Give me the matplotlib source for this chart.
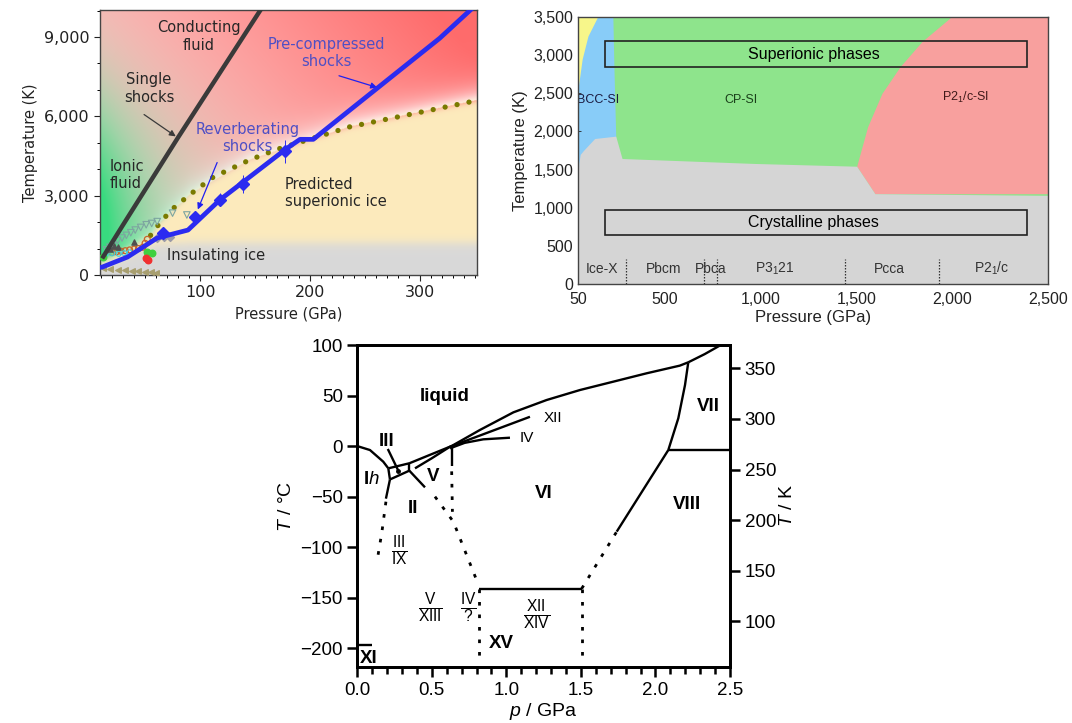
import numpy as np
import matplotlib
matplotlib.use("Agg")
import matplotlib.pyplot as plt
from matplotlib.patches import Rectangle
from matplotlib.ticker import FuncFormatter, MultipleLocator

plt.rcParams["mathtext.fontset"] = "custom"
plt.rcParams["mathtext.rm"] = "Liberation Sans"
plt.rcParams["mathtext.it"] = "Liberation Sans:italic"
plt.rcParams["mathtext.bf"] = "Liberation Sans:bold"

comma = FuncFormatter(lambda v, _: f"{v:,.0f}")

# ---------------- panel a: water under shock compression ----------------
hugoniot_p = [12, 30, 80, 155]
hugoniot_t = [700, 1900, 5200, 10020]

model_p = [9, 11, 34, 61, 89, 118, 179, 191, 203, 318, 346]
model_t = [290, 300, 680, 1400, 1700, 2840, 4790, 5130, 5130, 8950, 10020]

dotted_p = [55, 64, 75, 91, 112, 145, 170, 236, 300, 352]
dotted_t = [1500, 2000, 2500, 3050, 3700, 4350, 4750, 5600, 6150, 6600]

rev_p = [66, 95, 118, 139, 177]
rev_t = [1590, 2200, 2850, 3450, 4670]
rev_err = [100, 150, 250, 350, 450]

tri_p = [15, 18, 21, 25, 29, 33, 37, 41, 46, 51, 56, 61, 75, 88]
tri_t = [950, 1050, 1150, 1300, 1400, 1500, 1600, 1700, 1800, 1900, 1950, 2020, 2340, 2270]
orange_p = [20, 24, 28, 32, 36, 40, 44, 48, 50, 52]
orange_t = [850, 880, 900, 920, 950, 980, 1000, 1050, 1200, 1350]
cyan_p = [14, 20, 26, 31, 36]
cyan_t = [780, 820, 800, 830, 860]
green_pts_p = [12, 52, 56]
green_pts_t = [700, 880, 850]
red_pts_p = [51, 53]
red_pts_t = [640, 560]
dark_p = [18, 22, 25, 40]
dark_t = [1000, 1100, 1050, 1250]
grey_dia_p = [61, 67, 73]
grey_dia_t = [1400, 1420, 1440]
left_tri_p = [12, 18, 25, 32, 38, 44, 50, 55, 60]
left_tri_t = [260, 230, 200, 180, 160, 140, 120, 100, 80]

# soft background edges of the regions
sup_edge_p = [9, 30, 55, 64, 91, 145, 236, 352]
sup_edge_t = [500, 900, 1500, 2000, 3050, 4350, 5600, 6600]
ice_edge_p = [9, 30, 60, 90, 352]
ice_edge_t = [320, 650, 1150, 1200, 1200]

# ---------------- panel b: predicted phases at extreme pressure ----------------
grey_top_p = [50, 52, 60, 78, 135, 245, 278, 970, 1502, 1597, 2500]
grey_top_t = [1450, 1580, 1700, 1754, 1907, 1938, 1645, 1580, 1544, 1184, 1162]
bcc_edge_t = [1400, 1938, 2800, 3500]
bcc_edge_p = [245, 245, 236, 230]
red_edge_t = [1184, 1544, 2061, 2500, 2851, 3180, 3500]
red_edge_p = [1597, 1502, 1559, 1634, 1729, 1843, 1995]
yellow_edge_t = [2590, 2950, 3250, 3500]
yellow_edge_p = [50, 70, 100, 150]
crystal_bounds = [297, 705, 775, 1441, 1929]
crystal_names = ["Ice-X", "Pbcm", "Pbca", "P3$_1$21", "Pcca", "P2$_1$/c"]
crystal_name_p = [173, 496, 739, 1075, 1672, 2208]

# ---------------- panel c: ice phase diagram ----------------
solid_lines = {
    "ih_melt": ([0, 0.085, 0.174, 0.208], [0, -3.9, -15.4, -22]),
    "ih_iii": ([0.208, 0.219], [-22, -33]),
    "ih_ii": ([0.219, 0.192], [-33, -52]),
    "iii_melt": ([0.208, 0.349], [-22, -17]),
    "iii_v": ([0.349, 0.349], [-17, -24.3]),
    "iii_ii": ([0.219, 0.349], [-33, -24.3]),
    "ii_v": ([0.349, 0.454], [-24.3, -40.8]),
    "v_melt": ([0.349, 0.49, 0.633], [-17, -8.5, 0.1]),
    "vi_melt": ([0.633, 0.823, 1.047, 1.27, 1.494, 1.716, 1.94, 2.163, 2.22],
                [0.1, 16, 33.4, 45.6, 55.5, 63.7, 72, 79.6, 82.9]),
    "vii_melt": ([2.22, 2.33, 2.45], [82.9, 91, 101]),
    "v_vi": ([0.633, 0.633], [0.1, -20]),
    "xii": ([0.387, 0.5, 0.622, 0.89, 1.158], [-22, -12, -0.6, 14.2, 29]),
    "iv": ([0.622, 0.72, 0.845, 1.024], [-2.2, 3.2, 6.7, 8.3]),
    "vi_vii": ([2.086, 2.153, 2.198, 2.22], [-3.9, 27.5, 60.4, 82.9]),
    "vii_viii": ([2.086, 2.5], [-3.9, -3.9]),
    "vi_viii": ([1.74, 2.086], [-84.6, -3.9]),
    "vi_xv": ([0.818, 1.505], [-141, -141]),
    "xi": ([0, 0.096], [-196.7, -196.7]),
}
dotted_lines = {
    "ih_ix": ([0.192, 0.165, 0.13], [-55, -85, -116]),
    "ii_vi": ([0.521, 0.644, 0.733, 0.8], [-50, -74.7, -107.7, -132.5]),
    "v_vi": ([0.633, 0.638], [-25, -65]),
    "vi_viii": ([1.505, 1.74], [-141, -84.6]),
    "xv_left": ([0.818, 0.818], [-141, -212]),
    "xv_right": ([1.505, 1.505], [-141, -212]),
}

fig = plt.figure(figsize=(10.72, 7.23), dpi=100)

# ======================= panel a =======================
ax1 = fig.add_axes([0.0933, 0.6196, 0.3517, 0.3666])
P, T = np.meshgrid(np.linspace(9, 352, 520), np.linspace(0, 10020, 420))
Te = np.interp(P, sup_edge_p, sup_edge_t)
Ti = np.interp(P, ice_edge_p, ice_edge_t)
d = T - Te
sup = 1 / (1 + np.exp(np.clip(d / 70, -50, 50)))
ice = 1 / (1 + np.exp(np.clip((T - Ti) / 110, -50, 50)))
r = np.clip(0.9 * (P - 9) / 343 + 0.5 * T / 10020 - 0.3, 0, 1)[..., None]
pink = np.array([1.0, 0.80, 0.80])
red = np.array([1.0, 0.42, 0.42])
upper = pink * (1 - r) + red * r
halo = (np.where(d > 0, np.exp(-np.clip(d, 0, None) / 450), 0) * 0.9)[..., None]
upper = upper * (1 - halo) + halo
g = np.clip(1.15 * np.exp(-(P - 9) / 50) * np.exp(-((T - 1500) / 5000) ** 2), 0, 1)[..., None]
green = np.array([0.22, 0.86, 0.50])
upper = upper * (1 - g) + green * g
beige = np.array([0.99, 0.92, 0.74])
grey = np.array([0.85, 0.85, 0.85])
col = sup[..., None] * beige + (1 - sup[..., None]) * upper
col = ice[..., None] * grey + (1 - ice[..., None]) * col
ax1.imshow(col, extent=[9, 352, 0, 10020], origin="lower", aspect="auto",
           interpolation="bilinear", zorder=0)

ax1.plot(dotted_p, dotted_t, color="#7a7a00", lw=3.8, ls=(0, (0.01, 2.3)),
         dash_capstyle="round", zorder=3)
ax1.plot(hugoniot_p, hugoniot_t, color="#3a3a3a", lw=3.2, zorder=4)
ax1.plot(model_p, model_t, color="#2b2bf0", lw=3.4, zorder=4)
ax1.errorbar(rev_p, rev_t, yerr=rev_err, fmt="D", color="#2b2bf0", ms=6.5,
             elinewidth=0.7, capsize=0, zorder=5)
ax1.scatter(tri_p, tri_t, marker="v", s=22, facecolors="none", edgecolors="#7da5a0",
            lw=0.8, zorder=3)
ax1.scatter(orange_p, orange_t, marker="o", s=18, facecolors="none", edgecolors="#c8642a",
            lw=0.9, zorder=3)
ax1.scatter(cyan_p, cyan_t, marker="o", s=12, facecolors="none", edgecolors="#40d0e0",
            lw=0.8, zorder=3)
ax1.scatter(dark_p, dark_t, marker="^", s=14, color="#505050", zorder=3)
ax1.scatter(green_pts_p, green_pts_t, marker="o", s=22, color="#40d040", zorder=3)
ax1.scatter(red_pts_p, red_pts_t, marker="o", s=22, color="#f03030", zorder=3)
ax1.scatter(grey_dia_p, grey_dia_t, marker="D", s=16, color="#9a9aa8", zorder=3)
ax1.scatter(left_tri_p, left_tri_t, marker="<", s=16, color="#a89f70", zorder=3)

ax1.set_xlim(9, 352)
ax1.set_ylim(0, 10020)
ax1.xaxis.set_major_locator(MultipleLocator(100))
ax1.xaxis.set_minor_locator(MultipleLocator(10))
ax1.yaxis.set_major_locator(MultipleLocator(3000))
ax1.yaxis.set_minor_locator(MultipleLocator(1000))
ax1.yaxis.set_major_formatter(comma)
ax1.tick_params(labelsize=11.5, colors="#222222", length=4, width=0.8)
ax1.tick_params(which="minor", length=2.5, width=0.7)
for s in ax1.spines.values():
    s.set_color("#444444")
    s.set_linewidth(1.0)
ax1.set_xlabel("Pressure (GPa)", fontsize=10.5, color="#222222")
ax1.set_ylabel("Temperature (K)", fontsize=10.5, color="#222222")

tc = "#262626"
bc = "#4f4fc4"
fs1 = 10.5
ax1.text(99, 9010, "Conducting\nfluid", ha="center", va="center", fontsize=fs1, color=tc)
ax1.text(53.6, 7046, "Single\nshocks", ha="center", va="center", fontsize=fs1, color=tc)
ax1.text(215, 8385, "Pre-compressed\nshocks", ha="center", va="center", fontsize=fs1, color=bc)
ax1.text(143, 5170, "Reverberating\nshocks", ha="center", va="center", fontsize=fs1, color=bc)
ax1.text(18, 3782, "Ionic\nfluid", ha="left", va="center", fontsize=fs1, color=tc)
ax1.text(177, 3090, "Predicted\nsuperionic ice", ha="left", va="center", fontsize=fs1, color=tc)
ax1.text(69.7, 756, "Insulating ice", ha="left", va="center", fontsize=fs1, color=tc)
ax1.annotate("", xy=(80, 5181), xytext=(47, 6127),
             arrowprops=dict(arrowstyle="-|>", color="#3a3a3a", lw=0.9, mutation_scale=9))
ax1.annotate("", xy=(97, 2380), xytext=(116.5, 4349),
             arrowprops=dict(arrowstyle="-|>", color="#2020f0", lw=0.9, mutation_scale=9))
ax1.annotate("", xy=(263.5, 7060), xytext=(224, 7564),
             arrowprops=dict(arrowstyle="-|>", color="#2020f0", lw=0.9, mutation_scale=9))

# ======================= panel b =======================
ax2 = fig.add_axes([0.5395, 0.6072, 0.4381, 0.3693])
ax2.fill_between([50, 2500], 0, 3500, color="#8ee48c", lw=0, zorder=0)
ax2.fill_betweenx(bcc_edge_t, 50, bcc_edge_p, color="#88ccf8", lw=0, zorder=1)
ax2.fill_betweenx(red_edge_t, red_edge_p, 2500, color="#f8a09e", lw=0, zorder=1)
ax2.fill_between(grey_top_p, 0, grey_top_t, color="#d5d5d5", lw=0, zorder=2)
ax2.fill_betweenx(yellow_edge_t, 50, yellow_edge_p, color="#f7f68a", lw=0, zorder=2)

ax2.add_patch(Rectangle((188, 2838), 2200, 342, fill=False, ec="#222222", lw=1.2, zorder=4))
ax2.add_patch(Rectangle((188, 636), 2200, 338, fill=False, ec="#222222", lw=1.2, zorder=4))
ax2.text(1277, 3009, "Superionic phases", ha="center", va="center", fontsize=11.5,
         family="Liberation Sans", zorder=5)
ax2.text(1277, 805, "Crystalline phases", ha="center", va="center", fontsize=11.5,
         family="Liberation Sans", zorder=5)
ax2.text(154, 2412, "BCC-SI", ha="center", va="center", fontsize=9,
         family="Liberation Sans", color="#1a1a40", zorder=5)
ax2.text(900, 2412, "CP-SI", ha="center", va="center", fontsize=9,
         family="Liberation Sans", color="#1a401a", zorder=5)
ax2.text(2070, 2440, "P2$_1$/c-SI", ha="center", va="center", fontsize=9,
         family="Liberation Sans", color="#401a1a", zorder=5)
ax2.vlines(crystal_bounds, 0, 330, colors="#333333", linestyles=(0, (1.2, 1.2)), lw=0.9, zorder=3)
for name, p in zip(crystal_names, crystal_name_p):
    ax2.text(p, 200, name, ha="center", va="center", fontsize=10,
             family="Liberation Sans", color="#333333", zorder=5)

ax2.set_xlim(50, 2500)
ax2.set_ylim(0, 3500)
ax2.set_xticks([50, 500, 1000, 1500, 2000, 2500])
ax2.set_yticks(np.arange(0, 3501, 500))
ax2.xaxis.set_major_formatter(comma)
ax2.yaxis.set_major_formatter(comma)
ax2.tick_params(labelsize=11.5, direction="in", length=2, width=0.6, colors="#222222")
ax2.tick_params(axis="x", pad=6)
for lab in ax2.get_xticklabels() + ax2.get_yticklabels():
    lab.set_family("Liberation Sans")
for s in ax2.spines.values():
    s.set_color("#444444")
    s.set_linewidth(1.0)
    s.set_zorder(6)
ax2.set_xlabel("Pressure (GPa)", fontsize=12, family="Liberation Sans", color="#222222",
               labelpad=2)
ax2.set_ylabel("Temperature (K)", fontsize=12, family="Liberation Sans", color="#222222")

# ======================= panel c =======================
ax3 = fig.add_axes([0.3333, 0.0775, 0.3477, 0.4453])
for xs, ys in solid_lines.values():
    ax3.plot(xs, ys, color="black", lw=1.7, solid_capstyle="butt")
for xs, ys in dotted_lines.values():
    ax3.plot(xs, ys, color="black", lw=2.0, ls=(0, (1.3, 3.2)))
ax3.plot([0.208, 0.275], [-3.9, -24.3], color="black", lw=1.7)
ax3.plot([0.275], [-24.3], "o", color="black", ms=2.5)

fsc = 13.5
bold = dict(fontsize=fsc, fontweight="bold", family="Liberation Sans", ha="center", va="center")
ax3.text(0.588, 48.9, "liquid", **bold)
ax3.text(0.2, 5, "III", **bold)
ax3.text(0.51, -30, "V", **bold)
ax3.text(0.376, -61.5, "II", **bold)
ax3.text(1.248, -46.7, "VI", **bold)
ax3.text(2.355, 39, "VII", **bold)
ax3.text(2.21, -58, "VIII", **bold)
ax3.text(0.968, -195, "XV", **bold)
ax3.text(0.074, -210, "XI", **bold)
ax3.text(0.096, -33.5, r"I$\mathbf{\mathit{h}}$", **bold)
ax3.text(1.25, 28, "XII", ha="left", va="center", fontsize=11, family="Liberation Sans")
ax3.text(1.09, 7.7, "IV", ha="left", va="center", fontsize=11, family="Liberation Sans")
ax3.text(0.28, -103, r"$\frac{\mathrm{III}}{\mathrm{IX}}$", fontsize=16, ha="center", va="center")
ax3.text(0.49, -159.5, r"$\frac{\mathrm{V}}{\mathrm{XIII}}$", fontsize=16, ha="center", va="center")
ax3.text(0.745, -160, r"$\frac{\mathrm{IV}}{\mathrm{?}}$", fontsize=16, ha="center", va="center")
ax3.text(1.2, -167, r"$\frac{\mathrm{XII}}{\mathrm{XIV}}$", fontsize=16, ha="center", va="center")

ax3.set_xlim(0, 2.5)
ax3.set_ylim(-218.5, 100)
ax3.xaxis.set_major_locator(MultipleLocator(0.5))
ax3.xaxis.set_minor_locator(MultipleLocator(0.1))
ax3.yaxis.set_major_locator(MultipleLocator(50))
ax3.xaxis.set_major_formatter(FuncFormatter(lambda v, _: f"{v:.1f}"))
ax3.tick_params(labelsize=fsc, length=7, width=1.8, direction="out")
ax3.tick_params(which="minor", length=5, width=1.8)
ax3.tick_params(axis="y", right=False)
for lab in ax3.get_xticklabels() + ax3.get_yticklabels():
    lab.set_family("Liberation Sans")
for s in ax3.spines.values():
    s.set_linewidth(2.0)
ax3.set_xlabel(r"$p$ / GPa", fontsize=14, family="Liberation Sans", labelpad=2)
ax3.set_ylabel(r"$T$ / °C", fontsize=14, family="Liberation Sans", labelpad=4)

ax3r = ax3.twinx()
ax3r.set_ylim(-218.5 + 273.15, 100 + 273.15)
ax3r.set_yticks(np.arange(100, 351, 50))
ax3r.tick_params(labelsize=fsc, length=7, width=1.8, direction="out")
for lab in ax3r.get_yticklabels():
    lab.set_family("Liberation Sans")
for s in ax3r.spines.values():
    s.set_linewidth(2.0)
ax3r.set_ylabel(r"$T$ / K", fontsize=14, family="Liberation Sans", labelpad=2)

fig.savefig("out.png", dpi=100)
